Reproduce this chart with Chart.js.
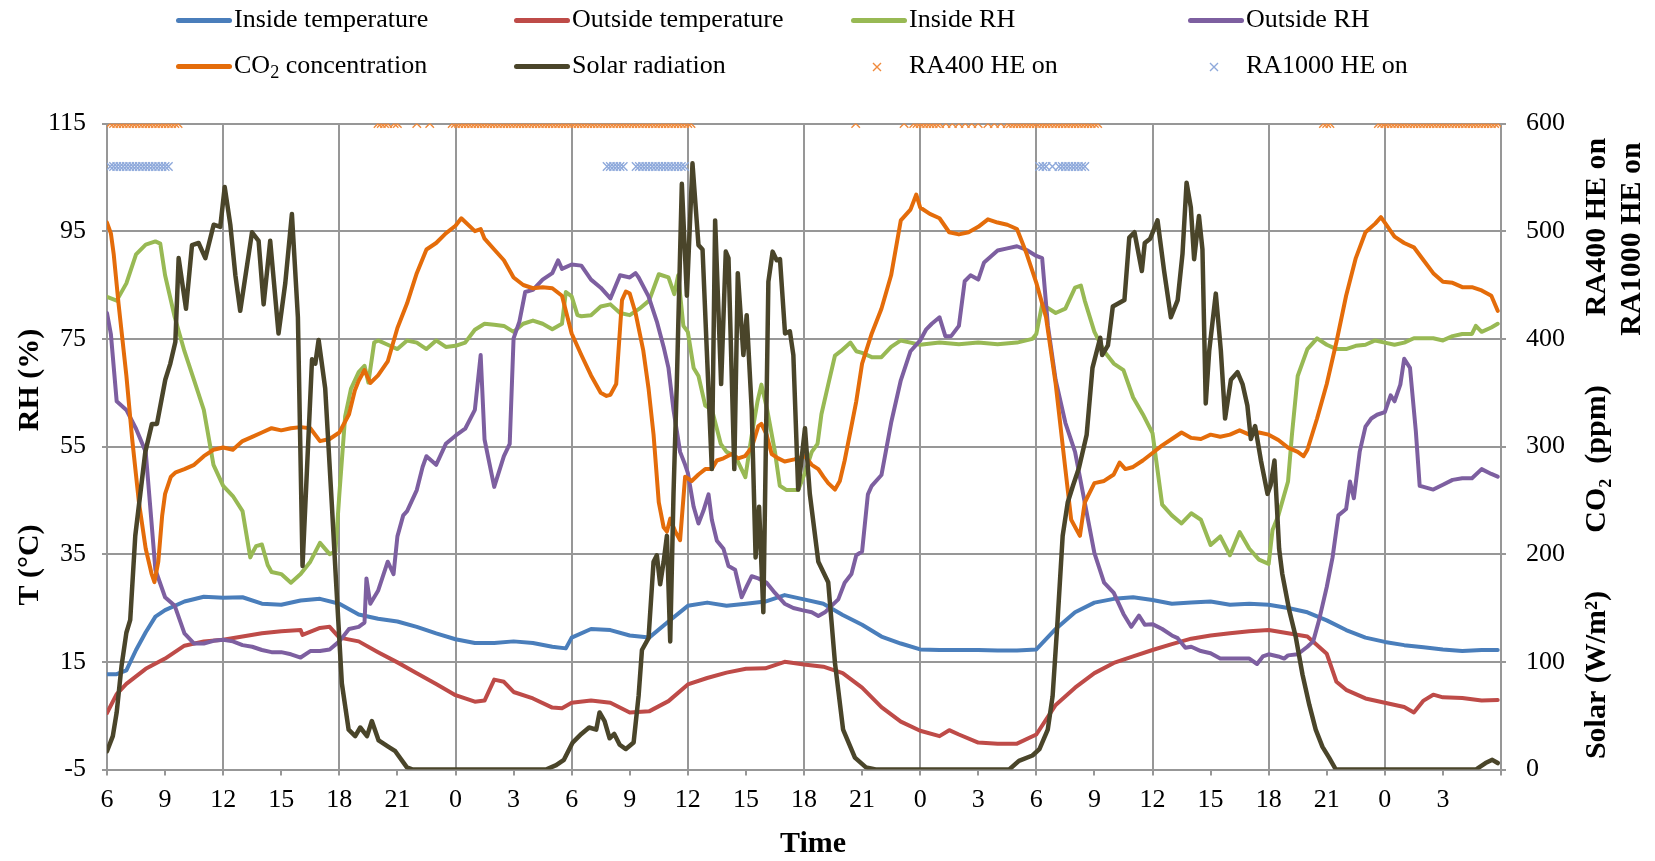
<!DOCTYPE html>
<html><head><meta charset="utf-8">
<script src="https://cdn.jsdelivr.net/npm/chart.js@4.4.1/dist/chart.umd.min.js"></script>
<style>
html,body{margin:0;padding:0;background:#fff;}
#wrap{position:relative;width:1655px;height:861px;overflow:hidden;}
#c{position:absolute;left:0;top:0;}
#legend{position:absolute;left:0;top:0;width:1655px;height:100px;font-family:'Liberation Serif','Times New Roman',serif;font-size:26px;color:#000;}
.txt{position:absolute;height:40px;line-height:40px;white-space:nowrap;}
.sw{position:absolute;width:56px;height:5px;border-radius:3px;}
.mk{position:absolute;width:12px;height:12px;}
sub{font-size:70%;vertical-align:-0.25em;line-height:0;}
</style></head>
<body><div id="wrap"><canvas id="c" width="1655" height="861"></canvas><div id="legend"></div></div>
<script>
// ---------- DATA (hours from 06:00 of day 1) ----------
const hourLabels = ['6','9','12','15','18','21','0','3','6','9','12','15','18','21','0','3','6','9','12','15','18','21','0','3',''];

const insideTemp = [[0,12.7],[0.5,12.7],[1,13.4],[1.5,17.2],[2,20.5],[2.5,23.4],[3,24.6],[4,26.2],[5,27.1],[6,26.9],[7,27.0],[8,25.8],[9,25.6],[10,26.4],[11,26.7],[12,25.8],[13,23.8],[14,23.0],[15,22.5],[16,21.5],[17,20.3],[18,19.2],[19,18.5],[20,18.5],[21,18.8],[22,18.5],[23,17.8],[23.7,17.5],[24,19.5],[25,21.1],[26,20.9],[27,19.9],[28,19.5],[29,22.5],[30,25.4],[31,26.0],[32,25.4],[33,25.8],[34,26.2],[35,27.4],[36,26.6],[37,25.8],[38,23.7],[39,21.9],[40,19.7],[41,18.4],[42,17.3],[43,17.2],[44,17.2],[45,17.2],[46,17.1],[47,17.1],[48,17.3],[49,21.1],[50,24.2],[51,26.0],[52,26.7],[53,27.0],[54,26.5],[55,25.8],[56,26.0],[57,26.2],[58,25.6],[59,25.8],[60,25.6],[61,25.0],[62,24.2],[63,22.7],[64,20.9],[65,19.5],[66,18.7],[67,18.1],[68,17.7],[69,17.3],[70,17.0],[71,17.2],[71.83,17.2]];

const outsideTemp = [[0,5.5],[0.5,9.0],[1,10.9],[2,13.7],[3,15.6],[4,18.0],[5,18.8],[6,19.1],[7,19.7],[8,20.3],[9,20.7],[10,20.9],[10.1,20.0],[11,21.3],[11.5,21.5],[12,19.5],[13,18.8],[14,16.8],[15,14.9],[16,12.9],[17,10.9],[18,8.8],[19,7.6],[19.5,7.8],[20,11.7],[20.5,11.3],[21,9.4],[22,8.2],[23,6.5],[23.5,6.4],[24,7.4],[25,7.8],[26,7.4],[27,5.6],[28,5.8],[29,7.7],[30,10.8],[31,12.0],[32,13.0],[33,13.7],[34,13.8],[35,15.0],[36,14.5],[37,14.1],[38,12.9],[39,10.2],[40,6.6],[41,3.9],[42,2.2],[43,1.2],[43.5,2.3],[44,1.5],[45,0.0],[46,-0.2],[47,-0.2],[48,1.5],[49,7.0],[50,10.2],[51,12.9],[52,14.8],[53,16.0],[54,17.2],[55,18.3],[56,19.3],[57,19.9],[58,20.3],[59,20.7],[60,20.9],[61,20.3],[62,19.7],[63,16.5],[63.5,11.3],[64,9.8],[65,8.2],[66,7.4],[67,6.6],[67.5,5.6],[68,7.8],[68.5,8.9],[69,8.4],[70,8.3],[71,7.8],[71.83,7.9]];

const insideRH = [[0,82.8],[0.5,82.1],[1,85.3],[1.5,90.7],[2,92.5],[2.5,93.1],[2.75,92.7],[3,86.8],[3.5,79.0],[4,72.7],[4.5,67.3],[5,61.8],[5.5,51.6],[6,47.7],[6.5,45.8],[7,43.0],[7.4,34.4],[7.55,35.5],[7.7,36.5],[8,36.8],[8.3,33.0],[8.5,31.7],[9,31.3],[9.5,29.7],[10,31.3],[10.5,33.6],[11,37.1],[11.5,35.0],[11.8,35.5],[12,46.1],[12.3,60.6],[12.6,65.7],[13,68.8],[13.3,70.0],[13.5,66.9],[13.8,74.3],[14,74.7],[14.5,73.9],[15,73.1],[15.5,74.7],[16,74.3],[16.5,73.1],[17,74.7],[17.5,73.5],[18,73.7],[18.5,74.3],[19,76.7],[19.5,77.8],[20,77.6],[20.5,77.4],[21,76.3],[21.5,77.8],[22,78.4],[22.5,77.8],[23,76.8],[23.5,77.8],[23.7,83.7],[24,82.9],[24.3,79.4],[24.5,79.2],[25,79.4],[25.5,81.0],[26,81.4],[26.5,79.8],[27,79.4],[27.5,80.6],[28,82.1],[28.5,87.0],[29,86.4],[29.3,83.3],[29.5,86.8],[29.77,77.4],[30,76.3],[30.3,69.6],[30.55,68.1],[30.9,62.6],[31.25,61.8],[31.7,55.5],[32,54.0],[32.45,53.2],[32.97,49.3],[33.3,57.1],[33.6,63.4],[33.8,66.5],[34.1,61.8],[34.5,54.0],[34.75,47.7],[35.1,46.9],[35.7,46.9],[36.05,50.1],[36.4,54.0],[36.7,55.5],[36.9,61.0],[37.25,66.5],[37.6,71.9],[37.9,72.7],[38.4,74.3],[38.7,72.7],[39,72.4],[39.5,71.6],[40,71.6],[40.5,73.5],[41,74.7],[41.5,74.3],[42,73.9],[43,74.3],[44,74.0],[45,74.3],[46,74.0],[47,74.3],[47.8,75.0],[48,75.9],[48.3,81.4],[49,79.8],[49.5,80.6],[50,84.5],[50.3,84.9],[50.5,82.1],[51,76.3],[51.5,72.7],[52,70.4],[52.5,69.2],[53,64.1],[53.5,61.0],[54,57.5],[54.5,44.2],[55,42.2],[55.5,40.7],[56,42.6],[56.5,41.4],[57,36.7],[57.5,38.3],[58,34.8],[58.5,39.1],[59,36.0],[59.5,34.0],[60,33.2],[60.2,39.5],[60.5,42.2],[61,48.5],[61.2,57.1],[61.5,68.1],[62,73.1],[62.5,75.1],[63,73.9],[63.5,73.1],[64,73.1],[64.5,73.7],[65,73.9],[65.5,74.7],[66,74.3],[66.5,73.9],[67,74.3],[67.5,75.1],[68,75.1],[68.5,75.1],[69,74.7],[69.5,75.5],[70,75.9],[70.5,75.9],[70.7,77.4],[71,76.3],[71.5,77.1],[71.83,77.8]];

const outsideRH = [[0,79.8],[0.2,75.9],[0.5,63.4],[1,61.8],[1.5,58.3],[2,54.0],[2.5,32.1],[3,27.0],[3.5,25.4],[4,20.3],[4.5,18.4],[5,18.4],[5.5,18.9],[6,19.1],[6.5,18.8],[7,18.1],[7.5,17.8],[8,17.2],[8.5,16.8],[9,16.8],[9.5,16.4],[10,15.8],[10.5,17.0],[11,17.0],[11.5,17.3],[12,18.8],[12.5,21.1],[13,21.5],[13.3,22.3],[13.4,30.5],[13.6,25.8],[14,28.2],[14.5,33.6],[14.8,31.3],[15,38.3],[15.3,42.2],[15.5,43.0],[16,46.9],[16.3,51.2],[16.5,53.2],[17,51.6],[17.5,55.5],[18,57.0],[18.5,58.3],[19,61.8],[19.3,72.0],[19.5,56.3],[20,47.5],[20.5,53.2],[20.8,55.5],[21,75.1],[21.3,78.2],[21.6,83.7],[22,84.1],[22.5,86.0],[23,87.2],[23.3,89.6],[23.5,88.0],[24,88.8],[24.5,88.6],[25,86.0],[25.5,84.5],[26,82.5],[26.5,86.8],[27,86.4],[27.3,87.2],[27.46,86.4],[27.97,82.9],[28.4,78.2],[28.75,73.5],[29,69.6],[29.26,61.8],[29.6,54.0],[29.86,51.6],[30,50.1],[30.3,43.8],[30.55,40.7],[30.8,43.0],[31.07,46.1],[31.24,41.4],[31.5,37.5],[31.84,36.0],[32.1,32.8],[32.44,32.1],[32.78,27.0],[33.04,29.0],[33.3,30.9],[33.64,30.5],[34.07,29.7],[34.5,27.8],[35,25.8],[35.45,25.0],[35.9,24.6],[36.4,24.2],[36.74,23.5],[37.08,24.2],[37.42,25.4],[37.77,26.6],[38.1,29.7],[38.45,31.3],[38.7,34.8],[39,35.5],[39.3,46.1],[39.5,47.7],[40,49.7],[40.5,59.4],[41,67.3],[41.5,72.7],[42,74.7],[42.3,76.7],[42.6,77.8],[43,79.0],[43.3,75.5],[43.6,75.5],[44,77.4],[44.3,85.7],[44.6,86.8],[45,86.0],[45.3,89.2],[46,91.4],[46.5,91.8],[47,92.2],[47.5,91.5],[48,90.4],[48.3,90.0],[48.6,77.4],[49,67.3],[49.5,59.4],[50,54.0],[50.5,44.6],[51,35.2],[51.5,29.7],[52,27.8],[52.5,23.9],[52.9,21.5],[53.3,23.6],[53.6,21.9],[54,22.0],[54.5,21.1],[55,19.9],[55.3,19.4],[55.7,17.6],[56,17.8],[56.5,17.0],[57,16.6],[57.5,15.6],[58,15.6],[58.5,15.6],[59,15.6],[59.4,14.6],[59.7,16.0],[60,16.4],[60.5,16.0],[60.8,15.6],[61,16.2],[61.5,16.4],[62,17.8],[62.3,18.8],[62.6,22.7],[63,28.9],[63.3,34.4],[63.6,42.2],[64,43.4],[64.2,48.5],[64.4,45.4],[64.7,54.0],[65,58.7],[65.3,60.2],[65.6,60.9],[66,61.4],[66.3,64.5],[66.5,63.4],[66.8,66.5],[67,71.3],[67.3,69.6],[67.6,57.9],[67.8,47.7],[68,47.5],[68.5,47.0],[69,47.9],[69.5,48.8],[70,49.1],[70.5,49.1],[71,50.8],[71.5,49.9],[71.83,49.4]];

// CO2 concentration (ppm, right axis)
const co2 = [[0,508],[0.2,498],[0.35,478],[0.6,432],[1,366],[1.3,307],[1.65,248],[2,205],[2.3,182],[2.45,174],[2.65,193],[2.85,236],[3,256],[3.3,272],[3.55,276],[4,279],[4.5,283],[5,291],[5.5,297],[6,299],[6.5,297],[7,305],[7.5,309],[8,313],[8.5,317],[9,315],[9.5,317],[10,318],[10.5,317],[11,305],[11.5,307],[12,313],[12.5,330],[12.8,352],[13,361],[13.3,371],[13.6,359],[14,366],[14.5,379],[15,410],[15.5,433],[16,461],[16.5,483],[17,489],[17.5,498],[18,505],[18.3,512],[19,500],[19.3,502],[19.5,493],[20,483],[20.5,473],[21,457],[21.5,450],[22,447],[22.5,448],[23,447],[23.5,440],[24,405],[24.5,385],[25,366],[25.5,350],[25.8,347],[26,348],[26.3,358],[26.6,436],[26.8,444],[27,442],[27.3,424],[27.7,389],[27.97,354],[28.23,311],[28.5,248],[28.75,225],[28.92,221],[29.09,233],[29.35,221],[29.6,213],[29.86,272],[30.2,268],[30.55,274],[30.9,279],[31.24,279],[31.5,287],[31.84,289],[32.27,293],[32.6,289],[32.95,291],[33.3,299],[33.64,319],[33.8,321],[34.07,311],[34.33,293],[34.67,289],[35,286],[35.5,288],[36.05,291],[36.4,283],[36.74,279],[37,272],[37.25,266],[37.6,260],[37.85,268],[38.1,287],[38.45,319],[38.7,342],[39,377],[39.5,405],[40,428],[40.5,459],[41,510],[41.5,520],[41.8,534],[42,522],[42.5,516],[43,512],[43.5,499],[44,497],[44.5,499],[45,504],[45.5,511],[46,508],[46.5,506],[47,502],[47.5,479],[48,452],[48.5,420],[49,358],[49.5,279],[49.8,232],[50.25,217],[50.5,248],[51,266],[51.5,268],[52,274],[52.3,285],[52.6,279],[53,281],[53.5,287],[54,294],[54.5,301],[55,307],[55.5,313],[56,308],[56.5,307],[57,311],[57.5,309],[58,311],[58.5,315],[59,311],[59.5,313],[60,311],[60.5,306],[61,299],[61.5,295],[61.8,291],[62,297],[62.5,326],[63,358],[63.5,397],[64,440],[64.5,475],[65,499],[65.5,507],[65.8,513],[66,508],[66.5,495],[67,489],[67.5,485],[68,473],[68.5,461],[69,453],[69.5,452],[70,448],[70.5,448],[71,445],[71.5,440],[71.83,426]];

// Solar radiation (W/m2, right axis)
const solar = [[0,17],[0.3,31],[0.5,53],[0.75,96],[1,127],[1.2,139],[1.46,217],[1.98,295],[2.32,321],[2.58,321],[3.01,362],[3.27,377],[3.53,397],[3.7,475],[4.08,428],[4.39,487],[4.73,489],[5.08,475],[5.51,506],[5.85,504],[6.08,541],[6.37,506],[6.63,459],[6.88,426],[7.49,499],[7.83,491],[8.09,432],[8.43,491],[8.86,405],[9.21,452],[9.55,516],[9.86,420],[10.1,189],[10.59,381],[10.76,377],[10.93,399],[11.27,354],[11.62,244],[11.82,178],[12.13,80],[12.48,37],[12.82,31],[13.08,39],[13.43,31],[13.68,45],[14.03,27],[14.54,21],[14.89,17],[15.49,2],[15.8,0],[22.67,0],[23.2,4],[23.6,9],[24.05,25],[24.5,33],[24.9,39],[25.27,37],[25.44,53],[25.7,45],[25.96,29],[26.2,33],[26.48,23],[26.8,19],[27.2,25],[27.46,69],[27.63,111],[27.97,122],[28.23,193],[28.4,199],[28.57,172],[28.75,193],[28.92,217],[29.09,119],[29.26,256],[29.43,358],[29.69,544],[29.95,440],[30.24,563],[30.55,487],[30.76,483],[30.98,389],[31.24,279],[31.41,510],[31.72,358],[31.96,481],[32.1,475],[32.4,279],[32.58,461],[32.87,385],[33.04,422],[33.3,334],[33.5,197],[33.68,244],[33.9,146],[34.16,453],[34.38,481],[34.59,473],[34.76,474],[35.02,405],[35.27,407],[35.45,385],[35.7,260],[36.05,317],[36.3,256],[36.74,193],[37.25,174],[37.6,99],[38.02,37],[38.63,11],[39.2,2],[39.7,0],[46.6,0],[47.1,8],[47.8,13],[48.16,19],[48.59,37],[48.84,68],[49.1,139],[49.36,217],[49.62,248],[49.9,264],[50.2,280],[50.6,311],[50.9,373],[51.3,401],[51.4,385],[51.7,394],[51.95,430],[52.55,436],[52.8,494],[53.07,499],[53.45,463],[53.6,489],[53.88,493],[54.26,510],[54.6,463],[54.95,420],[55.3,436],[55.55,479],[55.76,545],[55.98,522],[56.15,474],[56.4,514],[56.58,483],[56.75,340],[56.93,389],[57.27,442],[57.53,389],[57.75,326],[58.05,362],[58.39,369],[58.65,358],[58.9,338],[59.08,307],[59.3,319],[59.6,287],[59.94,256],[60.1,264],[60.3,287],[60.54,205],[60.7,182],[61.06,148],[61.4,123],[61.75,88],[62.1,60],[62.43,37],[62.78,21],[63.12,11],[63.47,0],[70.7,0],[71.2,6],[71.55,9],[71.83,6]];

// Heat-exchanger "on" runs: [first sample hour, last sample hour, sample spacing (h, optional)]
const sampleStep = 1/6;
const ra400OnRuns = [[0.17,3.67],[14.0,14.5],[14.83,15.0],[16.0,16.0],[16.67,16.67],[17.83,30.17],[38.67,38.67],[41.17,41.17],[41.67,43.0],[43.33,45.0,1/3],[45.5,46.17,1/3],[46.5,51.17],[62.83,63.17],[65.67,71.83]];
const ra1000OnRuns = [[0.17,3.17],[25.83,26.67],[27.33,29.83],[48.17,48.5],[48.83,48.83],[49.17,50.5]];
const ra400Level = 600;
const ra1000Level = 560;

// ---------- BUILD ----------
const toXY = arr => arr.map(([x, y]) => ({x, y}));
function runsToPoints(runs, level) {
  const pts = [];
  runs.forEach(([a, b, st]) => {
    const s = st || sampleStep;
    const n = Math.round((b - a) / s);
    for (let i = 0; i <= n; i++) pts.push({x: +(a + i * s).toFixed(3), y: level});
  });
  return pts;
}

const FONT = "'Liberation Serif', 'Times New Roman', serif";
const GRID = '#979797';
const C = {
  inT: '#4A7EBB', outT: '#BE4B48', inRH: '#98B954', outRH: '#7D5FA0',
  co2: '#E46C0A', solar: '#4A452A', ra400: '#F08A3C', ra1000: '#8EA9DB'
};

const lineDs = (label, data, color, axis, order, w) => ({
  label, data: toXY(data), borderColor: color, backgroundColor: color, yAxisID: axis,
  borderWidth: w || 4, pointRadius: 0, tension: 0, order,
  borderJoinStyle: 'round', borderCapStyle: 'round', fill: false
});

const datasets = [
  lineDs('Inside temperature', insideTemp, C.inT, 'y', 8),
  lineDs('Outside temperature', outsideTemp, C.outT, 'y', 7),
  lineDs('Inside RH', insideRH, C.inRH, 'y', 6),
  lineDs('Outside RH', outsideRH, C.outRH, 'y', 5),
  lineDs('CO₂ concentration', co2, C.co2, 'y2', 4),
  lineDs('Solar radiation', solar, C.solar, 'y2', 3, 4.5),
  { label: 'RA400 HE on', data: runsToPoints(ra400OnRuns, ra400Level), yAxisID: 'y2', showLine: false,
    pointStyle: 'crossRot', pointRadius: 6, pointBorderWidth: 1.4, borderColor: C.ra400, backgroundColor: C.ra400, order: 2 },
  { label: 'RA1000 HE on', data: runsToPoints(ra1000OnRuns, ra1000Level), yAxisID: 'y2', showLine: false,
    pointStyle: 'crossRot', pointRadius: 6, pointBorderWidth: 1.4, borderColor: C.ra1000, backgroundColor: C.ra1000, order: 1 }
];

// ---------- LEGEND (HTML) ----------
const colX = [176, 514, 851, 1188];
const rowCenter = [20, 66.5];
const rowTextTop = [-1.5, 45];
const leg = document.getElementById('legend');
datasets.forEach((ds, i) => {
  const col = i % 4, row = Math.floor(i / 4);
  if (ds.showLine === false) {
    const s = document.createElementNS('http://www.w3.org/2000/svg', 'svg');
    s.setAttribute('class', 'mk'); s.setAttribute('viewBox', '0 0 12 12');
    s.style.left = (colX[col] + 20) + 'px'; s.style.top = (rowCenter[row] - 6) + 'px';
    s.innerHTML = `<path d="M2 2 L10 10 M10 2 L2 10" stroke="${ds.borderColor}" stroke-width="1.4" fill="none"/>`;
    leg.appendChild(s);
  } else {
    const sw = document.createElement('div');
    sw.className = 'sw'; sw.style.background = ds.borderColor;
    sw.style.left = colX[col] + 'px'; sw.style.top = (rowCenter[row] - 2.5) + 'px';
    leg.appendChild(sw);
  }
  const t = document.createElement('div');
  t.className = 'txt';
  t.style.left = (colX[col] + 58) + 'px'; t.style.top = rowTextTop[row] + 'px';
  t.innerHTML = ds.label.replace('₂', '<sub>2</sub>');
  leg.appendChild(t);
});

// ---------- AXIS TITLES ----------
const titlesPlugin = {
  id: 'axisTitles',
  afterDraw(chart) {
    const ctx = chart.ctx;
    ctx.save();
    ctx.fillStyle = '#000';
    ctx.font = "bold 30px " + FONT;
    ctx.textAlign = 'center';
    ctx.textBaseline = 'middle';
    ctx.fillText('Time', 813, 844);
    const vt = (t, x, y) => { ctx.save(); ctx.translate(x, y); ctx.rotate(-Math.PI / 2); ctx.fillText(t, 0, 0); ctx.restore(); };
    vt('RH (%)', 30, 380);
    vt('T (°C)', 30, 565);
    vt('RA400 HE on', 1597, 227);
    vt('RA1000 HE on', 1632, 239);
    vt('CO₂  (ppm)', 1597, 459);
    vt('Solar (W/m²)', 1597, 675);
    ctx.restore();
  }
};

new Chart(document.getElementById('c'), {
  type: 'line',
  data: { datasets },
  options: {
    responsive: false, animation: false,
    parsing: false, normalized: true,
    layout: { padding: { top: 123.5, left: 0, right: 0, bottom: 0 } },
    plugins: { legend: { display: false }, tooltip: { enabled: false } },
    scales: {
      x: {
        type: 'linear', min: 0, max: 72,
        afterFit(s) { s.height = 91.5; },
        ticks: { stepSize: 3, autoSkip: false, maxRotation: 0, padding: 9, color: '#000',
                 font: { family: FONT, size: 26 },
                 callback: v => hourLabels[Math.round(v / 3)] ?? '' },
        grid: { color: c => (c.tick && Math.round(c.tick.value) % 6 === 0) ? GRID : 'rgba(0,0,0,0)',
                tickColor: GRID, lineWidth: 2, tickLength: 6 },
        border: { display: true, color: GRID, width: 2 }
      },
      y: {
        position: 'left', min: -5, max: 115,
        afterFit(s) { s.width = 107; },
        ticks: { stepSize: 20, padding: 16, color: '#000', font: { family: FONT, size: 26 } },
        grid: { color: GRID, lineWidth: 2, tickLength: 5 },
        border: { display: true, color: GRID, width: 2 }
      },
      y2: {
        position: 'right', min: 0, max: 600,
        afterFit(s) { s.width = 154; },
        ticks: { stepSize: 100, padding: 20, color: '#000', font: { family: FONT, size: 26 } },
        grid: { drawOnChartArea: false, color: GRID, lineWidth: 2, tickLength: 5 },
        border: { display: true, color: GRID, width: 2 }
      }
    }
  },
  plugins: [titlesPlugin]
});
</script></body></html>
